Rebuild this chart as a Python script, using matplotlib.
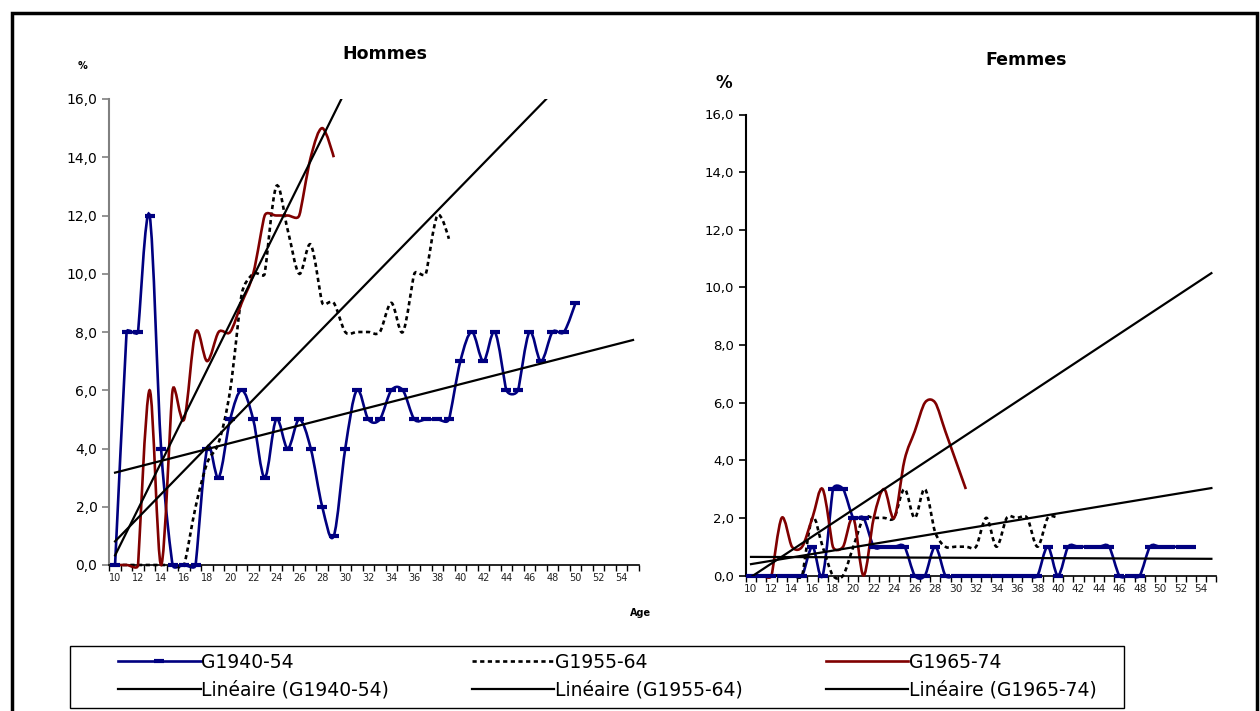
import numpy as np
import matplotlib.pyplot as plt
from matplotlib.path import Path
from matplotlib.patches import PathPatch, Rectangle
from matplotlib.lines import Line2D

plt.rcParams["font.family"] = ["DejaVu Sans"]

FIRST_AGE = 10
LAST_AGE = 55
AGE_LABELS = [str(a) for a in range(10, 56, 2)]
Y_TICKS = [0, 2, 4, 6, 8, 10, 12, 14, 16]

SERIES = ["G1940-54", "G1955-64", "G1965-74"]
TREND_LABELS = ["Linéaire (G1940-54)", "Linéaire (G1955-64)", "Linéaire (G1965-74)"]

# Hommes, values from age 10 onward
H_1940 = [0, 8, 8, 12, 4, 0, 0, 0, 4, 3, 5, 6, 5, 3, 5, 4, 5, 4, 2, 1, 4,
          6, 5, 5, 6, 6, 5, 5, 5, 5, 7, 8, 7, 8, 6, 6, 8, 7, 8, 8, 9]
H_1955 = [0, 0, 0, 0, 0, 0, 0, 2, 3.5, 4.2, 6, 9.3, 10, 10, 13, 11.5, 10, 11,
          9, 9, 8, 8, 8, 8, 9, 8, 10, 10, 12, 11.2]
H_1965 = [0, 0, 0, 6, 0, 6, 5, 8, 7, 8, 8, 9, 10, 12, 12, 12, 12, 14, 15, 14]

# Femmes, values from age 10 onward
F_1940 = [0, 0, 0, 0, 0, 0, 1, 0, 3, 3, 2, 2, 1, 1, 1, 1, 0, 0, 1,
          0, 0, 0, 0, 0, 0, 0, 0, 0, 0,
          1, 0, 1, 1, 1, 1, 1, 0, 0, 0, 1, 1, 1, 1, 1]
F_1955 = [0, 0, 0, 0, 0, 0, 2, 1, 0, 0, 1, 2, 2, 2, 2, 3, 2, 3, 1.5, 1, 1,
          1, 1, 2, 1, 2, 2, 2, 1, 2, 2]
F_1965 = [0, 0, 0, 2, 1, 1, 2, 3, 1, 1, 2, 0, 2, 3, 2, 4, 5, 6, 6, 5, 4, 3]

BLUE = "#000080"
RED = "#800000"
W, H = 1260, 711


def arm(a, b, c):
    # Excel-like tangent arm at b, limited by the neighbouring segments
    dac = np.hypot(*(c - a))
    if dac == 0:
        return np.zeros(2)
    length = min(dac / 6, np.hypot(*(b - a)) / 2, np.hypot(*(c - b)) / 2)
    return (c - a) / dac * length


def smooth_path(ax, xs, ys):
    pts = ax.transData.transform(np.column_stack([xs, ys]).astype(float))
    n = len(pts)
    verts, codes = [pts[0]], [Path.MOVETO]
    for i in range(n - 1):
        p0 = pts[i - 1] if i > 0 else pts[i]
        p1, p2 = pts[i], pts[i + 1]
        p3 = pts[i + 2] if i + 2 < n else pts[i + 1]
        verts += [p1 + arm(p0, p1, p2), p2 - arm(p1, p2, p3), p2]
        codes += [Path.CURVE4] * 3
    verts = ax.transData.inverted().transform(np.array(verts))
    return Path(verts, codes)


def draw_series(ax, vals, color, ls="-", marker=None):
    xs = np.arange(FIRST_AGE, FIRST_AGE + len(vals))
    ax.add_patch(PathPatch(smooth_path(ax, xs, vals), fill=False, edgecolor=color,
                           lw=1.9, linestyle=ls, clip_on=False, zorder=3))
    if marker:
        ax.plot(xs, vals, ls="none", marker=marker, color=color, ms=7, mew=3,
                clip_on=False, zorder=4)
    coef = np.polyfit(xs, vals, 1)
    ends = np.array([FIRST_AGE, LAST_AGE])
    ax.plot(ends, np.polyval(coef, ends), color="black", lw=1.6, zorder=5)


def setup_axes(ax, ycolor, xsize, ysize):
    ax.set_xlim(FIRST_AGE - 0.5, LAST_AGE + 0.5)
    ax.set_ylim(0, 16)
    for s in ["top", "right"]:
        ax.spines[s].set_visible(False)
    ax.spines["left"].set_color(ycolor)
    ax.spines["left"].set_linewidth(1.5)
    ax.spines["bottom"].set_linewidth(1.2)
    ax.set_yticks(Y_TICKS)
    ax.set_yticklabels([f"{v:.1f}".replace(".", ",") for v in Y_TICKS], fontsize=ysize)
    ax.tick_params(axis="y", colors=ycolor, labelcolor="black", length=5, width=1.2)
    ax.set_xticks(np.arange(FIRST_AGE - 0.5, LAST_AGE + 1))
    ax.set_xticklabels([])
    ax.tick_params(axis="x", which="major", length=4, width=1)
    ax.set_xticks(np.arange(FIRST_AGE, LAST_AGE + 1, 2), minor=True)
    ax.set_xticklabels(AGE_LABELS, minor=True, fontsize=xsize)
    ax.tick_params(axis="x", which="minor", length=0, pad=6, colors="#222222")
    ax.patch.set_alpha(0)


fig = plt.figure(figsize=(W / 100, H / 100), dpi=100)

ax_h = fig.add_axes([109.3 / W, 1 - 565 / H, 529.5 / W, 466 / H])
setup_axes(ax_h, "#808080", 7, 10)
draw_series(ax_h, H_1940, BLUE, marker="_")
draw_series(ax_h, H_1955, "black", ls=(0, (1.6, 1.3)))
draw_series(ax_h, H_1965, RED)

ax_f = fig.add_axes([745.9 / W, 1 - 575.5 / H, 470.6 / W, 461 / H])
setup_axes(ax_f, "black", 7.6, 9.5)
draw_series(ax_f, F_1940, BLUE, marker="_")
draw_series(ax_f, F_1955, "black", ls=(0, (1.6, 1.3)))
draw_series(ax_f, F_1965, RED)

fig.text(385 / W, 1 - 54 / H, "Hommes", fontsize=12.5, fontweight="bold",
         ha="center", va="center")
fig.text(1026 / W, 1 - 60 / H, "Femmes", fontsize=12.5, fontweight="bold",
         ha="center", va="center")
fig.text(83 / W, 1 - 66 / H, "%", fontsize=7, fontweight="bold", ha="center", va="center")
fig.text(724 / W, 1 - 83 / H, "%", fontsize=12, fontweight="bold", ha="center", va="center")
fig.text(641 / W, 1 - 613 / H, "Age", fontsize=7, fontweight="bold", ha="center", va="center")

# outer frame of the figure and frame of the legend
fig.patches.append(Rectangle((12 / W, -0.1), 1245 / W, 1 - 13 / H + 0.1,
                             transform=fig.transFigure, fill=False,
                             edgecolor="black", lw=2.5))
fig.patches.append(Rectangle((70 / W, 1 - 708 / H), 1054 / W, 62 / H,
                             transform=fig.transFigure, fill=False,
                             edgecolor="black", lw=1))

handles = [
    Line2D([], [], color=BLUE, lw=1.9, marker="_", ms=7, mew=3),
    Line2D([], [], color="black", lw=1.6),
    Line2D([], [], color="black", lw=1.9, ls=(0, (1.6, 1.3))),
    Line2D([], [], color="black", lw=1.6),
    Line2D([], [], color=RED, lw=1.9),
    Line2D([], [], color="black", lw=1.6),
]
labels = [SERIES[0], TREND_LABELS[0], SERIES[1], TREND_LABELS[1],
          SERIES[2], TREND_LABELS[2]]
fig.legend(handles, labels, ncol=3, loc="center left", numpoints=1,
           bbox_to_anchor=(118 / W, 1 - 676 / H), frameon=False, fontsize=13.5,
           handlelength=4.4, handletextpad=0.05, columnspacing=4.4,
           borderaxespad=0, borderpad=0, labelspacing=0.45)

fig.savefig("out.png", dpi=100)
